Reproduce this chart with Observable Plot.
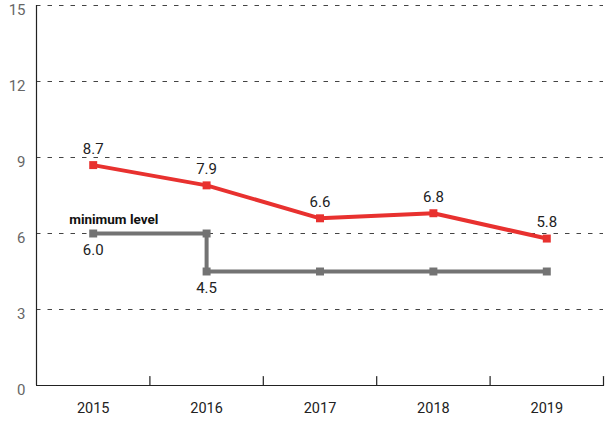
<!DOCTYPE html>
<html><head><meta charset="utf-8">
<script src="https://cdn.jsdelivr.net/npm/d3@7"></script>
<script src="https://cdn.jsdelivr.net/npm/@observablehq/plot@0.6"></script>
<style>body{margin:0;background:#fff}</style>
</head><body><div id="chart"></div>
<script>
const years = [2015, 2016, 2017, 2018, 2019];
const rateValues = [8.7, 7.9, 6.6, 6.8, 5.8];
const minYears = [2015, 2016, 2016, 2017, 2018, 2019];
const minValues = [6.0, 6.0, 4.5, 4.5, 4.5, 4.5];
const minLabelYears = [2015, 2016];
const minLabelValues = [6.0, 4.5];
const minLevelLabel = "minimum level";
const yTicks = [0, 3, 6, 9, 12, 15];
const xDomain = [years[0] - 0.5, years[years.length - 1] + 0.5];
const bandEdges = years.map(y => y + 0.5);

const red = "#e8312f";
const gray = "#737373";
const tickShape = {draw(c, l) { c.moveTo(0, 0); c.lineTo(0, -l); }};

const chart = Plot.plot({
  width: 606, height: 421,
  marginLeft: 36, marginRight: 3, marginTop: 5, marginBottom: 36,
  style: {fontFamily: "Roboto", fontSize: "14px", background: "#fff", overflow: "visible"},
  x: {domain: xDomain},
  y: {domain: [0, 15]},
  marks: [
    Plot.gridY(yTicks.slice(1), {stroke: "#444", strokeOpacity: 1, strokeDasharray: "4.5,7"}),
    Plot.axisY(yTicks, {tickSize: 0, tickPadding: 11, dy: 5, fill: "#666", fontSize: 15}),
    Plot.axisX(years, {tickSize: 0, tickPadding: 17, tickFormat: d => String(d), fill: "#222", fontSize: 14.5}),
    Plot.vector(bandEdges, {x: d => d, frameAnchor: "bottom", length: 9, anchor: "start", rotate: 0, shape: tickShape, stroke: "#222", strokeWidth: 1.2}),
    Plot.ruleY([0], {stroke: "#222", strokeWidth: 1.2}),
    Plot.ruleX([xDomain[0]], {stroke: "#222", strokeWidth: 1.2}),
    Plot.line(minValues, {x: minYears, y: minValues, stroke: gray, strokeWidth: 4, strokeLinejoin: "miter", strokeLinecap: "butt"}),
    Plot.dot(minValues, {x: minYears, y: minValues, symbol: "square", r: 4.5, fill: gray, stroke: null}),
    Plot.line(rateValues, {x: years, y: rateValues, stroke: red, strokeWidth: 4, strokeLinejoin: "miter", strokeLinecap: "butt"}),
    Plot.dot(rateValues, {x: years, y: rateValues, symbol: "square", r: 4.5, fill: red, stroke: null}),
    Plot.text(rateValues, {x: years, y: rateValues, text: d => d.toFixed(1), dy: -16, fill: "#222", fontSize: 15}),
    Plot.text(minLabelValues, {x: minLabelYears, y: minLabelValues, text: d => d.toFixed(1), dy: 17, fill: "#222", fontSize: 15}),
    Plot.text([minLevelLabel], {x: [years[0]], y: [minValues[0]], text: d => d, dx: -24, dy: -14, textAnchor: "start", fontWeight: "bold", fontSize: 13.5, fill: "#111"})
  ]
});
document.getElementById("chart").appendChild(chart);
</script>
</body></html>
